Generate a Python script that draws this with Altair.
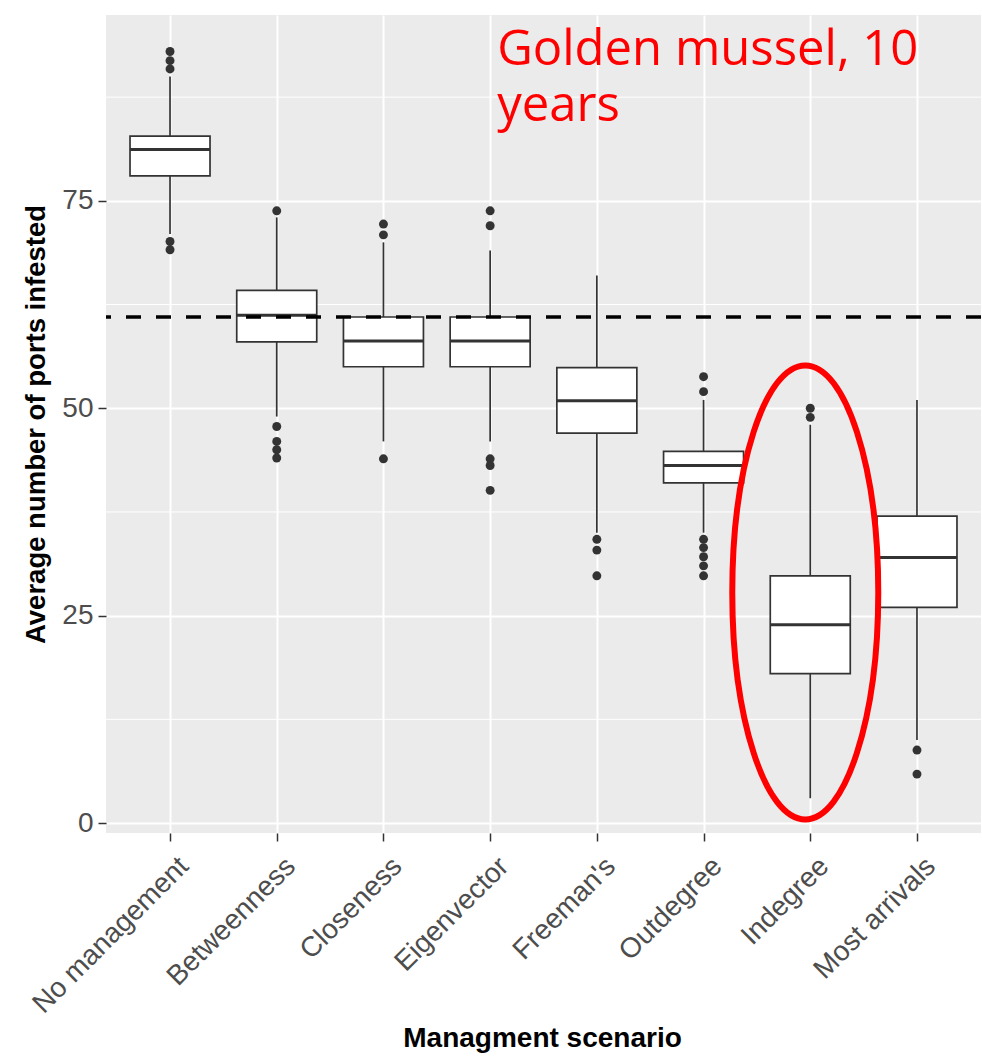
import altair as alt
import pandas as pd

# ---- data ----
categories = ["No management", "Betweenness", "Closeness", "Eigenvector",
              "Freeman's", "Outdegree", "Indegree", "Most arrivals"]
whisk_lo = [71.0, 49.0, 46.0, 46.0, 35.0, 35.0, 3.0, 10.0]
q1 = [78.0, 58.0, 55.0, 55.0, 47.0, 41.0, 18.0, 26.0]
median = [81.2, 61.2, 58.1, 58.1, 50.9, 43.1, 23.9, 32.0]
q3 = [82.8, 64.2, 61.0, 61.0, 54.9, 44.8, 29.8, 37.0]
whisk_hi = [90.0, 73.0, 70.0, 69.0, 66.0, 51.0, 48.0, 51.0]

outlier_cat = (["No management"] * 5 + ["Betweenness"] * 5 + ["Closeness"] * 3 +
               ["Eigenvector"] * 5 + ["Freeman's"] * 3 + ["Outdegree"] * 7 +
               ["Indegree"] * 2 + ["Most arrivals"] * 2)
outlier_val = ([93.0, 91.9, 90.9, 70.1, 69.1] +
               [73.8, 47.8, 46.0, 45.0, 44.0] +
               [72.2, 70.9, 43.9] +
               [73.8, 72.0, 43.9, 43.1, 40.1] +
               [34.2, 32.9, 29.8] +
               [53.8, 52.0, 34.2, 33.2, 32.1, 31.0, 29.8] +
               [50.0, 48.9] +
               [8.8, 5.9])

reference_level = [61.0]
minor_grid = [12.5, 37.5, 62.5, 87.5]
y_ticks = [0, 25, 50, 75]

note_cat = ["Eigenvector"]
note_y = [91.4]
note_text = ["Golden mussel, 10\nyears"]

ellipse_cat = ["Indegree"]
ellipse_y = [27.8]

# ---- tables ----
boxes = pd.DataFrame({"cat": categories, "lo": whisk_lo, "q1": q1,
                      "med": median, "q3": q3, "hi": whisk_hi})
outliers = pd.DataFrame({"cat": outlier_cat, "v": outlier_val})
ref = pd.DataFrame({"v": reference_level})
minor = pd.DataFrame({"v": minor_grid})
note = pd.DataFrame({"cat": note_cat, "v": note_y, "t": note_text})
ell = pd.DataFrame({"cat": ellipse_cat, "v": ellipse_y})

FONT = "Liberation Sans"
DARK = "#333333"

x_scale = alt.Scale(type="point", domain=categories, padding=0.6)
y_scale = alt.Scale(domain=[-1.2, 97.4], nice=False, zero=False)

x_axis = alt.Axis(
    title="Managment scenario", labelAngle=-45, labelAlign="right",
    labelBaseline="top", labelOffset=4, labelPadding=11, labelLimit=500,
    labelFontSize=28, labelColor="#4D4D4D", labelFont=FONT,
    tickColor=DARK, tickSize=8, tickWidth=1.5, domain=False,
    grid=True, gridColor="white", gridWidth=2,
    titleFont=FONT, titleFontSize=28, titleFontWeight="bold", titleColor="black",
    titleX=436, titleY=205, titleAlign="center", titleBaseline="middle",
)
y_axis = alt.Axis(
    title="Average number of ports infested", values=y_ticks,
    labelFontSize=28, labelColor="#4D4D4D", labelFont=FONT, labelPadding=5,
    tickColor=DARK, tickSize=8, tickWidth=1.5, domain=False,
    grid=True, gridColor="white", gridWidth=2,
    titleFont=FONT, titleFontSize=27.5, titleFontWeight="bold", titleColor="black",
    titleX=-70, titleY=409, titleAngle=270, titleAlign="center", titleBaseline="middle",
)


def X(field="cat"):
    return alt.X(f"{field}:N", scale=x_scale, axis=x_axis, sort=categories)


def Y(field):
    return alt.Y(f"{field}:Q", scale=y_scale, axis=y_axis)


minor_layer = alt.Chart(minor).mark_rule(color="white", strokeWidth=1).encode(y=Y("v"))

whiskers = alt.Chart(boxes).mark_rule(color=DARK, strokeWidth=1.7).encode(
    x=X(), y=Y("lo"), y2="hi")

box = alt.Chart(boxes).mark_bar(size=80, fill="white", stroke=DARK, strokeWidth=1.7,
                                opacity=1).encode(
    x=X(), y=Y("q1"), y2="q3")

med = alt.Chart(boxes).mark_tick(size=80, thickness=3, color=DARK, opacity=1).encode(
    x=X(), y=Y("med"))

pts = alt.Chart(outliers).mark_point(filled=True, size=80, color=DARK, opacity=1).encode(
    x=X(), y=Y("v"))

dash = alt.Chart(ref).mark_rule(color="black", strokeWidth=3.5, strokeDash=[15, 15]).encode(
    y=Y("v"))

# ellipse outline (shape path in unit coordinates)
k, a, b, c = 0.5523, 0.3216, 1.0, -0.022
ellipse_path = (
    f"M{c:.4f},{-b} C{c + k * a:.4f},{-b} {c + a:.4f},{-k * b:.4f} {c + a:.4f},0 "
    f"C{c + a:.4f},{k * b:.4f} {c + k * a:.4f},{b} {c:.4f},{b} "
    f"C{c - k * a:.4f},{b} {c - a:.4f},{k * b:.4f} {c - a:.4f},0 "
    f"C{c - a:.4f},{-k * b:.4f} {c - k * a:.4f},{-b} {c:.4f},{-b} Z"
)
ellipse = alt.Chart(ell).mark_point(
    shape=ellipse_path, filled=False, stroke="#FF0000", strokeWidth=6, opacity=1,
    size=206116).encode(x=X(), y=Y("v"))

label = alt.Chart(note).mark_text(
    align="left", baseline="alphabetic", dx=7, font="Open Sans", fontSize=49,
    color="#FF0000", lineBreak="\n", lineHeight=56).encode(
    x=X(), y=Y("v"), text="t:N")

chart = alt.layer(minor_layer, whiskers, box, med, pts, dash, ellipse, label).properties(
    width=875, height=818,
    autosize=alt.AutoSizeParams(type="none"),
    padding={"left": 106, "top": 15, "right": 1, "bottom": 228},
    background="white",
).configure_view(fill="#EBEBEB", stroke=None)

chart.save("out.html", embed_options={"renderer": "svg", "actions": False})
